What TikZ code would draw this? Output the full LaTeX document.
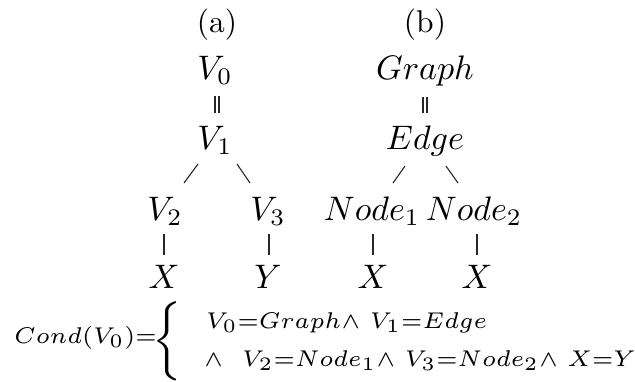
\documentclass[tikz,border=0pt]{standalone}
\usepackage{graphicx}
\usetikzlibrary{calc}
\newcommand{\Tbig}[1]{\scalebox{3.4}{$#1$}}
\newcommand{\Tlab}[1]{\scalebox{3.15}{#1}}
\newcommand{\Tcnd}[1]{\scalebox{3.8}{\fontsize{6}{7}\selectfont$#1$}}
\newcommand{\Tbrace}[1]{\scalebox{4.4}{\tiny$#1$}}
\tikzset{
  big/.style={inner sep=0pt, anchor=base},
  cnd/.style={inner sep=0pt},
  conn/.style={line width=1.1pt, draw=black!85},
  dbl/.style={double, double distance=2.6pt, line width=1.6pt, draw=black!85},
}
\begin{document}
\begin{tikzpicture}[x=1pt,y=-1pt]
\useasboundingbox (0,0) rectangle (635,381);
% headings
\node[big] (la) at (217,32) {\Tlab{(a)}};
\node[big] (lb) at (425,32) {\Tlab{(b)}};
% tree (a)
\node[big] (v0) at (215,79) {\Tbig{V_0}};
\node[big] (v1) at (215,149) {\Tbig{V_1}};
\node[big] (v2) at (165,220) {\Tbig{V_2}};
\node[big] (v3) at (268,220) {\Tbig{V_3}};
\node[big] (x1) at (164,288) {\Tbig{X}};
\node[big] (y1) at (268,288) {\Tbig{Y}};
% tree (b)
\node[big] (g) at (425,79) {\Tbig{Graph}};
\node[big] (e) at (425,149) {\Tbig{Edge}};
\node[big] (n1) at (372,220) {\Tbig{Node_1}};
\node[big] (n2) at (474,220) {\Tbig{Node_2}};
\node[big] (x2) at (373,288) {\Tbig{X}};
\node[big] (x3) at (477,288) {\Tbig{X}};
% connectors (a)
\draw[dbl] ($(v0.base)+(2,17)$) -- ($(v1.base)+(2,-36)$);
\draw[conn] ($(v1.base)+(-17,15)$) -- ($(v2.base)+(19,-37)$);
\draw[conn] ($(v1.base)+(22,15)$) -- ($(v3.base)+(-18,-37)$);
\draw[conn] ($(v2.base)+(-1,14)$) -- ($(x1.base)+(0,-33)$);
\draw[conn] ($(v3.base)+(1,14)$) -- ($(y1.base)+(1,-33)$);
% connectors (b)
\draw[dbl] ($(g.base)+(0,18)$) -- ($(e.base)+(0,-36)$);
\draw[conn] ($(e.base)+(-20,17)$) -- ($(n1.base)+(21,-37)$);
\draw[conn] ($(e.base)+(21,17)$) -- ($(n2.base)+(-16,-37)$);
\draw[conn] ($(n1.base)+(1,14)$) -- ($(x2.base)+(0,-33)$);
\draw[conn] ($(n2.base)+(3,14)$) -- ($(x3.base)+(0,-33)$);
% condition
\node[cnd, anchor=base east] (cl) at (157,343) {\Tcnd{Cond(V_0){=}}};
\node[cnd] (br) at (170,341) {\Tbrace{\left\{\vcenter{\hbox{\rule{0pt}{16.4pt}}}\right.}};
\node[cnd, anchor=base west] (c1) at (206,328) {\Tcnd{V_0{=}Graph{\wedge}\ V_1{=}Edge}};
\node[cnd, anchor=base west] (c2) at (204,366) {\Tcnd{{\wedge}\ \ V_2{=}Node_1{\wedge}\ V_3{=}Node_2{\wedge}\ X{=}Y}};
\end{tikzpicture}
\end{document}
